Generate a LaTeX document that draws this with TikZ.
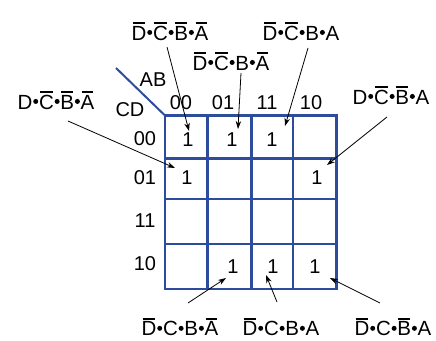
\documentclass[tikz,border=0pt]{standalone}
\usepackage{fontspec}
\setmainfont{Liberation Sans}
\usetikzlibrary{arrows.meta}
\definecolor{gridblue}{HTML}{2E4C9C}
\newcommand{\ob}[1]{\setbox0\hbox{#1}\rlap{\kern1pt\raisebox{\dimexpr\ht0+2.2pt\relax}{\rule{\dimexpr\wd0-2pt\relax}{1.8pt}}}\box0}
\newcommand{\dt}{\kern0.8pt\raisebox{0.25em}{\tikz\fill (0,0) circle (2.5pt);}\kern0.8pt}
\tikzset{
  kgrid/.style={draw=gridblue, line width=2.4pt},
  hdr/.style={inner sep=0pt, font=\fontsize{20}{23}\selectfont},
  one/.style={inner sep=0pt, font=\fontsize{20}{23}\selectfont},
  term/.style={inner sep=1pt, font=\fontsize{20.5}{24}\selectfont},
  ptr/.style={draw=black, line width=0.8pt, -{Stealth[length=8pt,width=5.5pt]}}
}
\begin{document}
\begin{tikzpicture}[x=1pt,y=-1pt]
\useasboundingbox (0,0) rectangle (436,340);
% grid
\draw[kgrid] (165,115.5) rectangle (336.5,289);
\draw[kgrid] (207.5,115.5) -- (207.5,289);
\draw[kgrid] (251.5,115.5) -- (251.5,289);
\draw[kgrid] (293,115.5) -- (293,289);
\draw[kgrid] (165,158.5) -- (336.5,158.5);
\draw[kgrid] (165,199) -- (336.5,199);
\draw[kgrid] (165,244) -- (336.5,244);
\coordinate (corner) at (165,115.5);
\coordinate (diag) at (116,68);
\draw[kgrid, line width=2pt] (corner) -- (diag);
% axis labels
\node[hdr] (ab) at (153,80) {AB};
\node[hdr] (cd) at (130,109.5) {CD};
\node[hdr] (c00) at (181,102.5) {00};
\node[hdr] (c01) at (223,102.5) {01};
\node[hdr] (c11) at (267,102.5) {11};
\node[hdr] (c10) at (311,102.5) {10};
\node[hdr] (r00) at (145,138.5) {00};
\node[hdr] (r01) at (145,178) {01};
\node[hdr] (r11) at (145,221) {11};
\node[hdr] (r10) at (145,264) {10};
% ones
\node[one] (m0) at (188,140) {1};
\node[one] (m2) at (232,140) {1};
\node[one] (m3) at (272,140) {1};
\node[one] (m4) at (187,177.5) {1};
\node[one] (m5) at (317,177.5) {1};
\node[one] (m10) at (233,267) {1};
\node[one] (m11) at (273,267) {1};
\node[one] (m9) at (315,267) {1};
% arrow tips
\coordinate (t0) at (189,131);
\coordinate (t2) at (238,129);
\coordinate (t3) at (285,126);
\coordinate (t4) at (175,168);
\coordinate (t5) at (327,165);
\coordinate (t10) at (226,278);
\coordinate (t11) at (266,275);
\coordinate (t9) at (330,278);
% terms
\node[term] (e0) at (170,31) {\ob{D}\dt\ob{C}\dt\ob{B}\dt\ob{A}};
\node[term] (e2) at (231,61) {\ob{D}\dt\ob{C}\dt B\dt\ob{A}};
\node[term] (e3) at (301,31) {\ob{D}\dt\ob{C}\dt B\dt A};
\node[term] (e4) at (56,100) {D\dt\ob{C}\dt\ob{B}\dt\ob{A}};
\node[term] (e5) at (391,95) {D\dt\ob{C}\dt\ob{B}\dt A};
\node[term] (e10) at (180,327) {\ob{D}\dt C\dt B\dt\ob{A}};
\node[term] (e11) at (281,327) {\ob{D}\dt C\dt B\dt A};
\node[term] (e9) at (393,327) {\ob{D}\dt C\dt\ob{B}\dt A};
% pointers
\draw[ptr] (167,47) -- (t0);
\draw[ptr] (241,73) -- (t2);
\draw[ptr] (308,48) -- (t3);
\draw[ptr] (68,121) -- (t4);
\draw[ptr] (387,117) -- (t5);
\draw[ptr] (188,303) -- (t10);
\draw[ptr] (277,302) -- (t11);
\draw[ptr] (380,303) -- (t9);
\end{tikzpicture}
\end{document}
